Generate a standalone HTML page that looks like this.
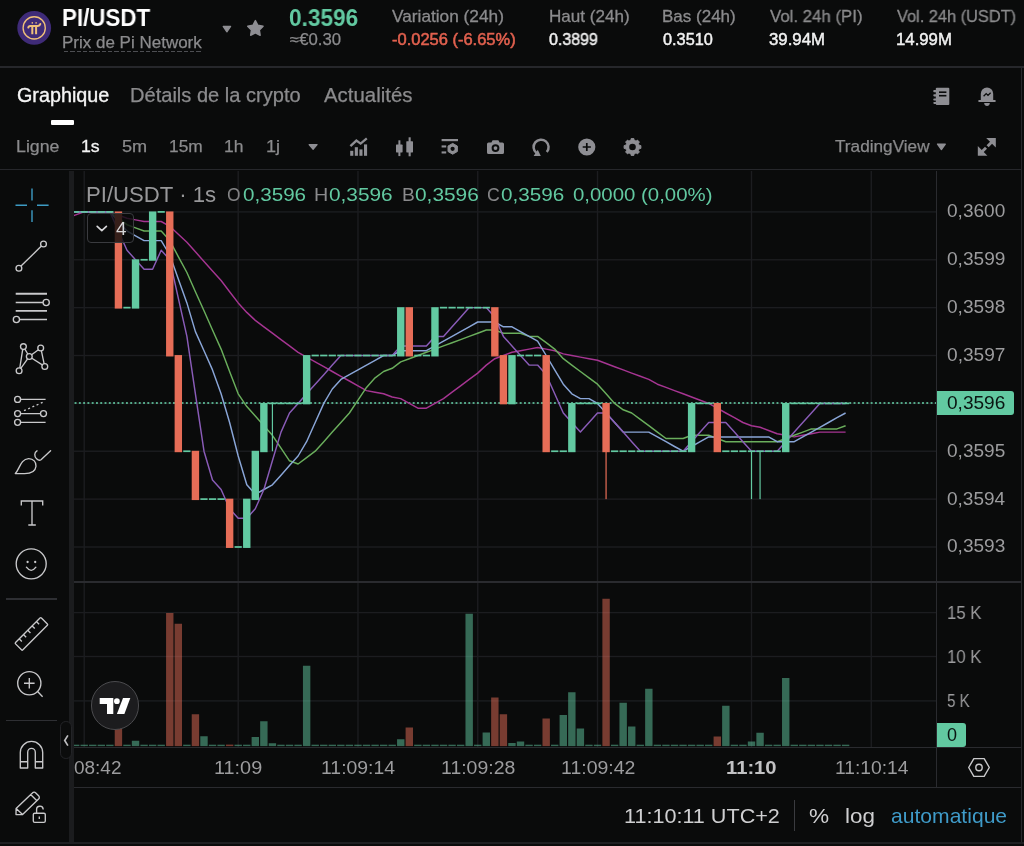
<!DOCTYPE html>
<html lang="fr">
<head>
<meta charset="utf-8">
<title>PI/USDT</title>
<style>
html,body{margin:0;padding:0;background:#0a0b0b;}
body{width:1024px;height:846px;position:relative;overflow:hidden;font-family:"Liberation Sans",sans-serif;}
.t{position:absolute;white-space:nowrap;line-height:1;transform-origin:0 0;will-change:transform;}
.b{position:absolute;}
svg{position:absolute;left:0;top:0;}
</style>
</head>
<body>
<!-- borders / structure -->
<div class="b" style="left:0;top:66.4px;width:1024px;height:1.4px;background:#26272b"></div>
<div class="b" style="left:0;top:169px;width:1022px;height:1.4px;background:#26272b"></div>
<div class="b" style="left:51.4px;top:120.2px;width:22.6px;height:4.4px;background:#fff;border-radius:1px"></div>
<div class="b" style="left:63.5px;top:50.6px;width:138.5px;height:1.7px;background:repeating-linear-gradient(90deg,#4d4e52 0,#4d4e52 4.4px,transparent 4.4px,transparent 6.3px)"></div>
<!-- left toolbar separator -->
<div class="b" style="left:68.7px;top:170.5px;width:5.2px;height:673px;background:#1b1c1e"></div>
<div class="b" style="left:5.7px;top:598.4px;width:51px;height:1.3px;background:#2e2f33"></div>
<div class="b" style="left:5.7px;top:719.9px;width:51px;height:1.3px;background:#2e2f33"></div>

<svg width="1024" height="846" viewBox="0 0 1024 846">
<defs><clipPath id="plot"><rect x="74" y="171" width="862" height="576"/></clipPath></defs>
<rect x="74" y="211.20" width="862" height="1.4" fill="#1c1d20"/>
<rect x="74" y="259.07" width="862" height="1.4" fill="#1c1d20"/>
<rect x="74" y="306.94" width="862" height="1.4" fill="#1c1d20"/>
<rect x="74" y="354.81" width="862" height="1.4" fill="#1c1d20"/>
<rect x="74" y="402.68" width="862" height="1.4" fill="#1c1d20"/>
<rect x="74" y="450.55" width="862" height="1.4" fill="#1c1d20"/>
<rect x="74" y="498.42" width="862" height="1.4" fill="#1c1d20"/>
<rect x="74" y="546.29" width="862" height="1.4" fill="#1c1d20"/>
<rect x="74" y="611.90" width="862" height="1.4" fill="#1c1d20"/>
<rect x="74" y="655.80" width="862" height="1.4" fill="#1c1d20"/>
<rect x="74" y="700.20" width="862" height="1.4" fill="#1c1d20"/>
<rect x="83.51" y="171" width="1.4" height="576" fill="#1c1d20"/>
<rect x="237.50" y="171" width="1.4" height="576" fill="#1c1d20"/>
<rect x="357.27" y="171" width="1.4" height="576" fill="#1c1d20"/>
<rect x="477.04" y="171" width="1.4" height="576" fill="#1c1d20"/>
<rect x="596.81" y="171" width="1.4" height="576" fill="#1c1d20"/>
<rect x="750.80" y="171" width="1.4" height="576" fill="#1c1d20"/>
<rect x="870.57" y="171" width="1.4" height="576" fill="#1c1d20"/>
<rect x="74.00" y="744.70" width="5.36" height="1.40" fill="#62c9a1" fill-opacity="0.5"/>
<rect x="80.51" y="744.70" width="7.40" height="1.40" fill="#62c9a1" fill-opacity="0.5"/>
<rect x="89.06" y="744.70" width="7.40" height="1.40" fill="#62c9a1" fill-opacity="0.5"/>
<rect x="97.62" y="744.70" width="7.40" height="1.40" fill="#62c9a1" fill-opacity="0.5"/>
<rect x="106.17" y="744.70" width="7.40" height="1.40" fill="#62c9a1" fill-opacity="0.5"/>
<rect x="114.73" y="722.00" width="7.40" height="24.10" fill="#e66d57" fill-opacity="0.5"/>
<rect x="123.28" y="744.70" width="7.40" height="1.40" fill="#62c9a1" fill-opacity="0.5"/>
<rect x="131.84" y="740.75" width="7.40" height="5.35" fill="#62c9a1" fill-opacity="0.5"/>
<rect x="140.40" y="744.70" width="7.40" height="1.40" fill="#62c9a1" fill-opacity="0.5"/>
<rect x="148.95" y="744.70" width="7.40" height="1.40" fill="#62c9a1" fill-opacity="0.5"/>
<rect x="157.50" y="744.70" width="7.40" height="1.40" fill="#62c9a1" fill-opacity="0.5"/>
<rect x="166.06" y="613.00" width="7.40" height="133.10" fill="#e66d57" fill-opacity="0.5"/>
<rect x="174.62" y="623.75" width="7.40" height="122.35" fill="#e66d57" fill-opacity="0.5"/>
<rect x="183.17" y="744.70" width="7.40" height="1.40" fill="#62c9a1" fill-opacity="0.5"/>
<rect x="191.72" y="714.25" width="7.40" height="31.85" fill="#e66d57" fill-opacity="0.5"/>
<rect x="200.28" y="736.25" width="7.40" height="9.85" fill="#62c9a1" fill-opacity="0.5"/>
<rect x="208.84" y="744.70" width="7.40" height="1.40" fill="#62c9a1" fill-opacity="0.5"/>
<rect x="217.39" y="744.70" width="7.40" height="1.40" fill="#62c9a1" fill-opacity="0.5"/>
<rect x="225.94" y="744.60" width="7.40" height="1.50" fill="#e66d57" fill-opacity="0.5"/>
<rect x="234.50" y="744.70" width="7.40" height="1.40" fill="#62c9a1" fill-opacity="0.5"/>
<rect x="243.06" y="744.70" width="7.40" height="1.40" fill="#62c9a1" fill-opacity="0.5"/>
<rect x="251.61" y="737.00" width="7.40" height="9.10" fill="#62c9a1" fill-opacity="0.5"/>
<rect x="260.17" y="721.25" width="7.40" height="24.85" fill="#62c9a1" fill-opacity="0.5"/>
<rect x="268.72" y="743.25" width="7.40" height="2.85" fill="#62c9a1" fill-opacity="0.5"/>
<rect x="277.27" y="744.70" width="7.40" height="1.40" fill="#62c9a1" fill-opacity="0.5"/>
<rect x="285.83" y="744.70" width="7.40" height="1.40" fill="#62c9a1" fill-opacity="0.5"/>
<rect x="294.38" y="744.70" width="7.40" height="1.40" fill="#62c9a1" fill-opacity="0.5"/>
<rect x="302.94" y="665.75" width="7.40" height="80.35" fill="#62c9a1" fill-opacity="0.5"/>
<rect x="311.50" y="744.70" width="7.40" height="1.40" fill="#62c9a1" fill-opacity="0.5"/>
<rect x="320.05" y="744.70" width="7.40" height="1.40" fill="#62c9a1" fill-opacity="0.5"/>
<rect x="328.60" y="744.70" width="7.40" height="1.40" fill="#62c9a1" fill-opacity="0.5"/>
<rect x="337.16" y="744.70" width="7.40" height="1.40" fill="#62c9a1" fill-opacity="0.5"/>
<rect x="345.71" y="744.70" width="7.40" height="1.40" fill="#62c9a1" fill-opacity="0.5"/>
<rect x="354.27" y="744.70" width="7.40" height="1.40" fill="#62c9a1" fill-opacity="0.5"/>
<rect x="362.82" y="744.70" width="7.40" height="1.40" fill="#62c9a1" fill-opacity="0.5"/>
<rect x="371.38" y="744.70" width="7.40" height="1.40" fill="#62c9a1" fill-opacity="0.5"/>
<rect x="379.94" y="744.70" width="7.40" height="1.40" fill="#62c9a1" fill-opacity="0.5"/>
<rect x="388.49" y="744.70" width="7.40" height="1.40" fill="#62c9a1" fill-opacity="0.5"/>
<rect x="397.05" y="739.25" width="7.40" height="6.85" fill="#62c9a1" fill-opacity="0.5"/>
<rect x="405.60" y="727.50" width="7.40" height="18.60" fill="#e66d57" fill-opacity="0.5"/>
<rect x="414.16" y="744.70" width="7.40" height="1.40" fill="#62c9a1" fill-opacity="0.5"/>
<rect x="422.71" y="744.70" width="7.40" height="1.40" fill="#62c9a1" fill-opacity="0.5"/>
<rect x="431.26" y="744.70" width="7.40" height="1.40" fill="#62c9a1" fill-opacity="0.5"/>
<rect x="439.82" y="744.70" width="7.40" height="1.40" fill="#62c9a1" fill-opacity="0.5"/>
<rect x="448.38" y="744.70" width="7.40" height="1.40" fill="#62c9a1" fill-opacity="0.5"/>
<rect x="456.93" y="744.70" width="7.40" height="1.40" fill="#62c9a1" fill-opacity="0.5"/>
<rect x="465.48" y="613.75" width="7.40" height="132.35" fill="#62c9a1" fill-opacity="0.5"/>
<rect x="474.04" y="744.70" width="7.40" height="1.40" fill="#62c9a1" fill-opacity="0.5"/>
<rect x="482.59" y="732.50" width="7.40" height="13.60" fill="#62c9a1" fill-opacity="0.5"/>
<rect x="491.15" y="697.50" width="7.40" height="48.60" fill="#e66d57" fill-opacity="0.5"/>
<rect x="499.70" y="714.25" width="7.40" height="31.85" fill="#e66d57" fill-opacity="0.5"/>
<rect x="508.26" y="743.00" width="7.40" height="3.10" fill="#62c9a1" fill-opacity="0.5"/>
<rect x="516.81" y="741.50" width="7.40" height="4.60" fill="#62c9a1" fill-opacity="0.5"/>
<rect x="525.37" y="744.70" width="7.40" height="1.40" fill="#62c9a1" fill-opacity="0.5"/>
<rect x="533.92" y="744.70" width="7.40" height="1.40" fill="#62c9a1" fill-opacity="0.5"/>
<rect x="542.48" y="718.50" width="7.40" height="27.60" fill="#e66d57" fill-opacity="0.5"/>
<rect x="551.03" y="744.70" width="7.40" height="1.40" fill="#62c9a1" fill-opacity="0.5"/>
<rect x="559.59" y="715.00" width="7.40" height="31.10" fill="#62c9a1" fill-opacity="0.5"/>
<rect x="568.14" y="692.25" width="7.40" height="53.85" fill="#62c9a1" fill-opacity="0.5"/>
<rect x="576.70" y="728.50" width="7.40" height="17.60" fill="#62c9a1" fill-opacity="0.5"/>
<rect x="585.25" y="744.70" width="7.40" height="1.40" fill="#62c9a1" fill-opacity="0.5"/>
<rect x="593.81" y="744.70" width="7.40" height="1.40" fill="#62c9a1" fill-opacity="0.5"/>
<rect x="602.37" y="598.75" width="7.40" height="147.35" fill="#e66d57" fill-opacity="0.5"/>
<rect x="610.92" y="744.70" width="7.40" height="1.40" fill="#62c9a1" fill-opacity="0.5"/>
<rect x="619.47" y="702.75" width="7.40" height="43.35" fill="#62c9a1" fill-opacity="0.5"/>
<rect x="628.03" y="726.50" width="7.40" height="19.60" fill="#62c9a1" fill-opacity="0.5"/>
<rect x="636.58" y="744.70" width="7.40" height="1.40" fill="#62c9a1" fill-opacity="0.5"/>
<rect x="645.14" y="688.75" width="7.40" height="57.35" fill="#62c9a1" fill-opacity="0.5"/>
<rect x="653.69" y="744.70" width="7.40" height="1.40" fill="#62c9a1" fill-opacity="0.5"/>
<rect x="662.25" y="744.70" width="7.40" height="1.40" fill="#62c9a1" fill-opacity="0.5"/>
<rect x="670.80" y="744.70" width="7.40" height="1.40" fill="#62c9a1" fill-opacity="0.5"/>
<rect x="679.36" y="744.70" width="7.40" height="1.40" fill="#62c9a1" fill-opacity="0.5"/>
<rect x="687.91" y="744.70" width="7.40" height="1.40" fill="#62c9a1" fill-opacity="0.5"/>
<rect x="696.47" y="744.70" width="7.40" height="1.40" fill="#62c9a1" fill-opacity="0.5"/>
<rect x="705.02" y="744.70" width="7.40" height="1.40" fill="#62c9a1" fill-opacity="0.5"/>
<rect x="713.58" y="736.50" width="7.40" height="9.60" fill="#e66d57" fill-opacity="0.5"/>
<rect x="722.13" y="705.75" width="7.40" height="40.35" fill="#62c9a1" fill-opacity="0.5"/>
<rect x="730.69" y="744.70" width="7.40" height="1.40" fill="#62c9a1" fill-opacity="0.5"/>
<rect x="739.24" y="744.70" width="7.40" height="1.40" fill="#62c9a1" fill-opacity="0.5"/>
<rect x="747.80" y="741.50" width="7.40" height="4.60" fill="#62c9a1" fill-opacity="0.5"/>
<rect x="756.36" y="732.75" width="7.40" height="13.35" fill="#62c9a1" fill-opacity="0.5"/>
<rect x="764.91" y="744.70" width="7.40" height="1.40" fill="#62c9a1" fill-opacity="0.5"/>
<rect x="773.46" y="744.70" width="7.40" height="1.40" fill="#62c9a1" fill-opacity="0.5"/>
<rect x="782.02" y="678.00" width="7.40" height="68.10" fill="#62c9a1" fill-opacity="0.5"/>
<rect x="790.57" y="744.70" width="7.40" height="1.40" fill="#62c9a1" fill-opacity="0.5"/>
<rect x="799.13" y="744.70" width="7.40" height="1.40" fill="#62c9a1" fill-opacity="0.5"/>
<rect x="807.68" y="744.70" width="7.40" height="1.40" fill="#62c9a1" fill-opacity="0.5"/>
<rect x="816.24" y="744.70" width="7.40" height="1.40" fill="#62c9a1" fill-opacity="0.5"/>
<rect x="824.79" y="744.70" width="7.40" height="1.40" fill="#62c9a1" fill-opacity="0.5"/>
<rect x="833.35" y="744.70" width="7.40" height="1.40" fill="#62c9a1" fill-opacity="0.5"/>
<rect x="841.90" y="744.70" width="7.40" height="1.40" fill="#62c9a1" fill-opacity="0.5"/>
<line x1="74.6" y1="402.93" x2="936" y2="402.93" stroke="#62c9a1" stroke-width="1.9" stroke-dasharray="1.9 2.38" stroke-opacity="0.82"/>
<polyline clip-path="url(#plot)" points="67.1,218.0 75.7,214.9 84.2,211.9 92.8,211.9 101.3,211.9 109.9,211.9 118.4,215.1 127.0,218.3 135.5,219.9 144.1,221.5 152.6,221.5 161.2,221.5 169.8,226.3 178.3,234.2 186.9,242.2 195.4,251.8 204.0,261.4 212.5,270.9 221.1,280.5 229.6,291.7 238.2,302.9 246.8,312.4 255.3,320.4 263.9,326.8 272.4,333.2 281.0,339.6 289.5,345.9 298.1,352.3 306.6,357.1 315.2,361.9 323.8,366.7 332.3,371.5 340.9,376.3 349.4,381.0 358.0,385.8 366.5,390.6 375.1,392.2 383.6,393.8 392.2,397.0 400.7,398.6 409.3,403.4 417.9,408.2 426.4,408.2 435.0,403.4 443.5,398.6 452.1,392.2 460.6,385.8 469.2,379.4 477.7,373.1 486.3,365.1 494.8,358.7 503.4,355.5 512.0,352.3 520.5,350.7 529.1,349.1 537.6,347.5 546.2,349.1 554.7,350.7 563.3,353.9 571.8,355.5 580.4,357.1 589.0,358.7 597.5,360.3 606.1,363.5 614.6,366.7 623.2,369.9 631.7,373.1 640.3,376.3 648.8,379.4 657.4,384.2 666.0,387.4 674.5,390.6 683.1,393.8 691.6,397.0 700.2,400.2 708.7,403.4 717.3,408.2 725.8,413.0 734.4,417.7 742.9,422.5 751.5,425.7 760.1,427.3 768.6,430.5 777.2,433.7 785.7,435.3 794.3,436.9 802.8,435.3 811.4,433.7 819.9,432.1 828.5,432.1 837.0,432.1 845.6,432.1" fill="none" stroke="#a63592" stroke-width="1.45" stroke-linejoin="round"/>
<polyline clip-path="url(#plot)" points="67.1,211.9 75.7,211.9 84.2,211.9 92.8,211.9 101.3,211.9 109.9,211.9 118.4,218.3 127.0,224.7 135.5,227.9 144.1,231.0 152.6,231.0 161.2,231.0 169.8,240.6 178.3,256.6 186.9,272.5 195.4,291.7 204.0,310.8 212.5,330.0 221.1,349.1 229.6,371.5 238.2,393.8 246.8,406.6 255.3,416.1 263.9,425.7 272.4,435.3 281.0,448.1 289.5,460.8 298.1,464.0 306.6,457.6 315.2,451.2 323.8,441.7 332.3,432.1 340.9,422.5 349.4,413.0 358.0,400.2 366.5,387.4 375.1,377.8 383.6,371.5 392.2,368.3 400.7,361.9 409.3,358.7 417.9,355.5 426.4,352.3 435.0,349.1 443.5,345.9 452.1,342.7 460.6,339.6 469.2,336.4 477.7,333.2 486.3,330.0 494.8,330.0 503.4,333.2 512.0,333.2 520.5,333.2 529.1,336.4 537.6,336.4 546.2,342.7 554.7,349.1 563.3,358.7 571.8,365.1 580.4,371.5 589.0,377.8 597.5,384.2 606.1,393.8 614.6,403.4 623.2,409.8 631.7,413.0 640.3,419.3 648.8,425.7 657.4,432.1 666.0,438.5 674.5,438.5 683.1,438.5 691.6,435.3 700.2,435.3 708.7,435.3 717.3,438.5 725.8,441.7 734.4,441.7 742.9,441.7 751.5,441.7 760.1,441.7 768.6,441.7 777.2,441.7 785.7,438.5 794.3,435.3 802.8,432.1 811.4,428.9 819.9,428.9 828.5,428.9 837.0,428.9 845.6,425.7" fill="none" stroke="#6aae5c" stroke-width="1.45" stroke-linejoin="round"/>
<polyline clip-path="url(#plot)" points="67.1,211.9 75.7,211.9 84.2,211.9 92.8,211.9 101.3,211.9 109.9,211.9 118.4,221.5 127.0,231.0 135.5,235.8 144.1,240.6 152.6,240.6 161.2,240.6 169.8,255.0 178.3,278.9 186.9,302.9 195.4,331.6 204.0,350.7 212.5,369.9 221.1,393.8 229.6,422.5 238.2,456.0 246.8,484.8 255.3,494.3 263.9,489.5 272.4,484.8 281.0,475.2 289.5,465.6 298.1,456.0 306.6,441.7 315.2,422.5 323.8,403.4 332.3,389.0 340.9,379.4 349.4,374.7 358.0,369.9 366.5,365.1 375.1,360.3 383.6,355.5 392.2,355.5 400.7,350.7 409.3,350.7 417.9,350.7 426.4,350.7 435.0,345.9 443.5,341.1 452.1,336.4 460.6,331.6 469.2,326.8 477.7,322.0 486.3,322.0 494.8,322.0 503.4,326.8 512.0,326.8 520.5,331.6 529.1,336.4 537.6,341.1 546.2,355.5 554.7,369.9 563.3,384.2 571.8,393.8 580.4,398.6 589.0,398.6 597.5,403.4 606.1,413.0 614.6,422.5 623.2,432.1 631.7,432.1 640.3,432.1 648.8,432.1 657.4,436.9 666.0,441.7 674.5,446.5 683.1,451.2 691.6,446.5 700.2,441.7 708.7,436.9 717.3,436.9 725.8,436.9 734.4,436.9 742.9,436.9 751.5,436.9 760.1,436.9 768.6,436.9 777.2,441.7 785.7,441.7 794.3,441.7 802.8,436.9 811.4,432.1 819.9,427.3 828.5,422.5 837.0,417.7 845.6,413.0" fill="none" stroke="#8aa6d8" stroke-width="1.45" stroke-linejoin="round"/>
<polyline clip-path="url(#plot)" points="67.1,211.9 75.7,211.9 84.2,211.9 92.8,211.9 101.3,211.9 109.9,211.9 118.4,231.0 127.0,250.2 135.5,259.8 144.1,269.3 152.6,269.3 161.2,250.2 169.8,259.8 178.3,298.1 186.9,336.4 195.4,393.8 204.0,451.2 212.5,480.0 221.1,489.5 229.6,508.7 238.2,518.3 246.8,518.3 255.3,508.7 263.9,489.5 272.4,460.8 281.0,432.1 289.5,413.0 298.1,403.4 306.6,393.8 315.2,384.2 323.8,374.7 332.3,365.1 340.9,355.5 349.4,355.5 358.0,355.5 366.5,355.5 375.1,355.5 383.6,355.5 392.2,355.5 400.7,345.9 409.3,345.9 417.9,345.9 426.4,345.9 435.0,336.4 443.5,336.4 452.1,326.8 460.6,317.2 469.2,307.6 477.7,307.6 486.3,307.6 494.8,317.2 503.4,336.4 512.0,345.9 520.5,355.5 529.1,365.1 537.6,365.1 546.2,374.7 554.7,393.8 563.3,413.0 571.8,422.5 580.4,432.1 589.0,422.5 597.5,413.0 606.1,413.0 614.6,422.5 623.2,432.1 631.7,441.7 640.3,451.2 648.8,451.2 657.4,451.2 666.0,451.2 674.5,451.2 683.1,451.2 691.6,441.7 700.2,432.1 708.7,422.5 717.3,422.5 725.8,422.5 734.4,432.1 742.9,441.7 751.5,451.2 760.1,451.2 768.6,451.2 777.2,451.2 785.7,441.7 794.3,432.1 802.8,422.5 811.4,413.0 819.9,403.4 828.5,403.4 837.0,403.4 845.6,403.4" fill="none" stroke="#8a5cb8" stroke-width="1.45" stroke-linejoin="round"/>
<rect x="74.10" y="211.05" width="5.16" height="1.7" fill="#62c9a1"/>
<rect x="80.61" y="211.05" width="7.20" height="1.7" fill="#62c9a1"/>
<rect x="89.16" y="211.05" width="7.20" height="1.7" fill="#62c9a1"/>
<rect x="97.72" y="211.05" width="7.20" height="1.7" fill="#62c9a1"/>
<rect x="106.27" y="211.05" width="7.20" height="1.7" fill="#62c9a1"/>
<rect x="114.73" y="211.45" width="7.40" height="97.14" fill="#e66d57"/>
<rect x="123.38" y="306.79" width="7.20" height="1.7" fill="#62c9a1"/>
<rect x="131.84" y="259.32" width="7.40" height="49.27" fill="#62c9a1"/>
<rect x="140.50" y="258.92" width="7.20" height="1.7" fill="#62c9a1"/>
<rect x="148.95" y="211.45" width="7.40" height="49.27" fill="#62c9a1"/>
<rect x="157.60" y="211.05" width="7.20" height="1.7" fill="#62c9a1"/>
<rect x="166.06" y="211.45" width="7.40" height="145.01" fill="#e66d57"/>
<rect x="174.62" y="355.06" width="7.40" height="97.14" fill="#e66d57"/>
<rect x="183.27" y="450.40" width="7.20" height="1.7" fill="#62c9a1"/>
<rect x="191.72" y="450.80" width="7.40" height="49.27" fill="#e66d57"/>
<rect x="200.38" y="498.27" width="7.20" height="1.7" fill="#62c9a1"/>
<rect x="208.94" y="498.27" width="7.20" height="1.7" fill="#62c9a1"/>
<rect x="217.49" y="498.27" width="7.20" height="1.7" fill="#62c9a1"/>
<rect x="225.94" y="498.67" width="7.40" height="49.27" fill="#e66d57"/>
<rect x="234.60" y="546.14" width="7.20" height="1.7" fill="#62c9a1"/>
<rect x="243.06" y="498.67" width="7.40" height="49.27" fill="#62c9a1"/>
<rect x="251.61" y="450.80" width="7.40" height="49.27" fill="#62c9a1"/>
<rect x="260.17" y="402.93" width="7.40" height="49.27" fill="#62c9a1"/>
<rect x="271.82" y="403.38" width="1.2" height="47.87" fill="#62c9a1"/>
<rect x="268.82" y="402.53" width="7.20" height="1.7" fill="#62c9a1"/>
<rect x="277.38" y="402.53" width="7.20" height="1.7" fill="#62c9a1"/>
<rect x="285.93" y="402.53" width="7.20" height="1.7" fill="#62c9a1"/>
<rect x="294.49" y="402.53" width="7.20" height="1.7" fill="#62c9a1"/>
<rect x="302.94" y="355.06" width="7.40" height="49.27" fill="#62c9a1"/>
<rect x="311.60" y="354.66" width="7.20" height="1.7" fill="#62c9a1"/>
<rect x="320.15" y="354.66" width="7.20" height="1.7" fill="#62c9a1"/>
<rect x="328.70" y="354.66" width="7.20" height="1.7" fill="#62c9a1"/>
<rect x="337.26" y="354.66" width="7.20" height="1.7" fill="#62c9a1"/>
<rect x="345.81" y="354.66" width="7.20" height="1.7" fill="#62c9a1"/>
<rect x="354.37" y="354.66" width="7.20" height="1.7" fill="#62c9a1"/>
<rect x="362.93" y="354.66" width="7.20" height="1.7" fill="#62c9a1"/>
<rect x="371.48" y="354.66" width="7.20" height="1.7" fill="#62c9a1"/>
<rect x="380.04" y="354.66" width="7.20" height="1.7" fill="#62c9a1"/>
<rect x="388.59" y="354.66" width="7.20" height="1.7" fill="#62c9a1"/>
<rect x="397.05" y="307.19" width="7.40" height="49.27" fill="#62c9a1"/>
<rect x="405.60" y="307.19" width="7.40" height="49.27" fill="#e66d57"/>
<rect x="414.26" y="354.66" width="7.20" height="1.7" fill="#62c9a1"/>
<rect x="422.81" y="354.66" width="7.20" height="1.7" fill="#62c9a1"/>
<rect x="431.26" y="307.19" width="7.40" height="49.27" fill="#62c9a1"/>
<rect x="439.92" y="306.79" width="7.20" height="1.7" fill="#62c9a1"/>
<rect x="448.48" y="306.79" width="7.20" height="1.7" fill="#62c9a1"/>
<rect x="457.03" y="306.79" width="7.20" height="1.7" fill="#62c9a1"/>
<rect x="465.58" y="306.79" width="7.20" height="1.7" fill="#62c9a1"/>
<rect x="474.14" y="306.79" width="7.20" height="1.7" fill="#62c9a1"/>
<rect x="482.69" y="306.79" width="7.20" height="1.7" fill="#62c9a1"/>
<rect x="491.15" y="307.19" width="7.40" height="49.27" fill="#e66d57"/>
<rect x="499.70" y="355.06" width="7.40" height="49.27" fill="#e66d57"/>
<rect x="508.26" y="355.06" width="7.40" height="49.27" fill="#62c9a1"/>
<rect x="516.91" y="354.66" width="7.20" height="1.7" fill="#62c9a1"/>
<rect x="525.47" y="354.66" width="7.20" height="1.7" fill="#62c9a1"/>
<rect x="534.02" y="354.66" width="7.20" height="1.7" fill="#62c9a1"/>
<rect x="542.48" y="355.06" width="7.40" height="97.14" fill="#e66d57"/>
<rect x="551.13" y="450.40" width="7.20" height="1.7" fill="#62c9a1"/>
<rect x="559.69" y="450.40" width="7.20" height="1.7" fill="#62c9a1"/>
<rect x="568.14" y="402.93" width="7.40" height="49.27" fill="#62c9a1"/>
<rect x="576.80" y="402.53" width="7.20" height="1.7" fill="#62c9a1"/>
<rect x="585.35" y="402.53" width="7.20" height="1.7" fill="#62c9a1"/>
<rect x="593.91" y="402.53" width="7.20" height="1.7" fill="#62c9a1"/>
<rect x="605.47" y="403.38" width="1.2" height="95.74" fill="#e66d57"/>
<rect x="602.37" y="402.93" width="7.40" height="49.27" fill="#e66d57"/>
<rect x="611.02" y="450.40" width="7.20" height="1.7" fill="#62c9a1"/>
<rect x="619.57" y="450.40" width="7.20" height="1.7" fill="#62c9a1"/>
<rect x="628.13" y="450.40" width="7.20" height="1.7" fill="#62c9a1"/>
<rect x="636.68" y="450.40" width="7.20" height="1.7" fill="#62c9a1"/>
<rect x="645.24" y="450.40" width="7.20" height="1.7" fill="#62c9a1"/>
<rect x="653.79" y="450.40" width="7.20" height="1.7" fill="#62c9a1"/>
<rect x="662.35" y="450.40" width="7.20" height="1.7" fill="#62c9a1"/>
<rect x="670.90" y="450.40" width="7.20" height="1.7" fill="#62c9a1"/>
<rect x="679.46" y="450.40" width="7.20" height="1.7" fill="#62c9a1"/>
<rect x="687.91" y="402.93" width="7.40" height="49.27" fill="#62c9a1"/>
<rect x="696.57" y="402.53" width="7.20" height="1.7" fill="#62c9a1"/>
<rect x="705.12" y="402.53" width="7.20" height="1.7" fill="#62c9a1"/>
<rect x="713.58" y="402.93" width="7.40" height="49.27" fill="#e66d57"/>
<rect x="722.24" y="450.40" width="7.20" height="1.7" fill="#62c9a1"/>
<rect x="730.79" y="450.40" width="7.20" height="1.7" fill="#62c9a1"/>
<rect x="739.34" y="450.40" width="7.20" height="1.7" fill="#62c9a1"/>
<rect x="750.90" y="451.25" width="1.2" height="47.87" fill="#62c9a1"/>
<rect x="747.90" y="450.40" width="7.20" height="1.7" fill="#62c9a1"/>
<rect x="759.46" y="451.25" width="1.2" height="47.87" fill="#62c9a1"/>
<rect x="756.46" y="450.40" width="7.20" height="1.7" fill="#62c9a1"/>
<rect x="765.01" y="450.40" width="7.20" height="1.7" fill="#62c9a1"/>
<rect x="773.56" y="450.40" width="7.20" height="1.7" fill="#62c9a1"/>
<rect x="782.02" y="402.93" width="7.40" height="49.27" fill="#62c9a1"/>
<rect x="790.67" y="402.53" width="7.20" height="1.7" fill="#62c9a1"/>
<rect x="799.23" y="402.53" width="7.20" height="1.7" fill="#62c9a1"/>
<rect x="807.78" y="402.53" width="7.20" height="1.7" fill="#62c9a1"/>
<rect x="816.34" y="402.53" width="7.20" height="1.7" fill="#62c9a1"/>
<rect x="824.89" y="402.53" width="7.20" height="1.7" fill="#62c9a1"/>
<rect x="833.45" y="402.53" width="7.20" height="1.7" fill="#62c9a1"/>
<rect x="842.00" y="402.53" width="7.20" height="1.7" fill="#62c9a1"/>
</svg>

<!-- pane borders -->
<div class="b" style="left:74px;top:581.3px;width:948px;height:1.4px;background:#2a2b2f"></div>
<div class="b" style="left:74px;top:746.7px;width:948px;height:1.4px;background:#2a2b2f"></div>
<div class="b" style="left:74px;top:786.7px;width:948px;height:1.4px;background:#2a2b2f"></div>
<div class="b" style="left:935.7px;top:170.5px;width:1.4px;height:617px;background:#2a2b2f"></div>
<div class="b" style="left:1021px;top:67px;width:1.4px;height:776px;background:#26272b"></div>
<div class="b" style="left:0;top:842.3px;width:1024px;height:2px;background:#1e1f22"></div>
<div class="b" style="left:793.7px;top:800px;width:1.3px;height:30.5px;background:#3a3b3f"></div>

<!-- price labels -->
<div class="b" style="left:936.9px;top:391.1px;width:77.2px;height:24.2px;background:#62c9a1;border-radius:0 3px 3px 0"></div>
<div class="b" style="left:936.9px;top:722.5px;width:28.8px;height:24.5px;background:#62c9a1;border-radius:0 3px 3px 0"></div>

<!-- legend collapse box -->
<div class="b" style="left:86.9px;top:213.4px;width:46.8px;height:29.2px;border:1.2px solid #3a3b3f;border-radius:4px;background:rgba(10,11,11,0.8);box-sizing:border-box"></div>

<!-- pane collapse handle -->
<div class="b" style="left:60.2px;top:721.2px;width:11.4px;height:37.8px;border:1.7px solid #232427;border-radius:5.8px;background:#0b0c0c;box-sizing:border-box"></div>

<!-- TradingView logo -->
<div class="b" style="left:90.5px;top:681px;width:48.6px;height:48.6px;border-radius:50%;background:#1c1c1e;border:1.3px solid #4b4b4e;box-sizing:border-box"></div>

<svg width="1024" height="846" viewBox="0 0 1024 846">
<circle cx="34.2" cy="27.9" r="16.9" fill="#3f2b78"/>
<circle cx="34.2" cy="27.9" r="11.1" fill="none" stroke="#efc07a" stroke-width="1.35"/>
<path d="M28.3 27.6 q0.2 -1.7 2 -1.7 h7.6 q1.9 0 2.4 -1.9" fill="none" stroke="#efc07a" stroke-width="2" stroke-linecap="round"/>
<path d="M32.3 26 v8.2 M36.1 26 v8.2" stroke="#efc07a" stroke-width="2" fill="none"/>
<circle cx="32.3" cy="22.9" r="0.8" fill="#efc07a"/><circle cx="36.1" cy="22.9" r="0.8" fill="#efc07a"/>
<polygon points="223.2,26.5 230.6,26.5 226.9,31.8" fill="#8e8e93" stroke="#8e8e93" stroke-width="1.3" stroke-linejoin="round"/>
<polygon points="255.40,20.60 257.87,25.30 263.10,26.20 259.39,30.00 260.16,35.25 255.40,32.90 250.64,35.25 251.41,30.00 247.70,26.20 252.93,25.30" fill="#8e8e93" stroke="#8e8e93" stroke-width="1.4" stroke-linejoin="round"/>
<polygon points="309.1,144.7 317.1,144.7 313.1,149.3" fill="#8e8e93" stroke="#8e8e93" stroke-width="1.2" stroke-linejoin="round"/>
<polygon points="937.5,144.1 945.3,144.1 941.4,149.5" fill="#8e8e93" stroke="#8e8e93" stroke-width="1.3" stroke-linejoin="round"/>
<g fill="#8e8e93"><rect x="350.2" y="150.8" width="3.1" height="5"/><rect x="354.8" y="147.2" width="3.1" height="8.6"/><rect x="359.4" y="149.4" width="3.1" height="6.4"/><rect x="364" y="144.4" width="3.1" height="11.4"/></g>
<polyline points="350.4,146.2 356.4,140.6 360.6,143.6 366.8,138.4" fill="none" stroke="#8e8e93" stroke-width="2.3" stroke-linejoin="miter"/>
<g fill="#8e8e93"><rect x="396" y="144.6" width="6.6" height="7.8" rx="0.6"/><rect x="398.4" y="140.3" width="2" height="15.8"/><rect x="406.3" y="141.2" width="6.7" height="11.2" rx="0.6"/><rect x="408.6" y="137.3" width="2.1" height="19"/></g>
<g fill="#8e8e93"><rect x="441.6" y="139" width="16.4" height="2.2"/><rect x="441.6" y="145.4" width="4.6" height="2.1"/><rect x="441.6" y="151.4" width="4.6" height="2.1"/></g>
<polygon points="457.38,151.50 452.70,154.20 448.02,151.50 448.02,146.10 452.70,143.40 457.38,146.10" fill="#8e8e93" stroke="#8e8e93" stroke-width="1" stroke-linejoin="round"/>
<circle cx="452.6" cy="148.8" r="2.1" fill="#0a0b0b"/>
<path d="M488.6 142.4 h2.8 l1.2 -2.2 h5.8 l1.2 2.2 h2.8 a1.6 1.6 0 0 1 1.6 1.6 v8.4 a1.6 1.6 0 0 1 -1.6 1.6 h-13.8 a1.6 1.6 0 0 1 -1.6 -1.6 v-8.4 a1.6 1.6 0 0 1 1.6 -1.6 z" fill="#8e8e93"/>
<circle cx="495.5" cy="148.1" r="3.9" fill="#0a0b0b"/><circle cx="495.5" cy="148.1" r="1.9" fill="#8e8e93"/>
<path d="M536.4 153.0 A7.5 7.5 0 1 1 546.8 152.0" fill="none" stroke="#8e8e93" stroke-width="2.5" stroke-linecap="butt"/>
<polygon points="533.6,156 540.8,156 537.8,149.8" fill="#8e8e93"/>
<circle cx="586.8" cy="147" r="8.6" fill="#8e8e93"/>
<path d="M582.7 147 h8.2 M586.8 142.9 v8.2" stroke="#0a0b0b" stroke-width="1.7" fill="none"/>
<polygon points="640.88,145.60 640.88,148.40 639.21,148.61 638.38,150.61 639.42,151.94 637.44,153.92 636.11,152.88 634.11,153.71 633.90,155.38 631.10,155.38 630.89,153.71 628.89,152.88 627.56,153.92 625.58,151.94 626.62,150.61 625.79,148.61 624.12,148.40 624.12,145.60 625.79,145.39 626.62,143.39 625.58,142.06 627.56,140.08 628.89,141.12 630.89,140.29 631.10,138.62 633.90,138.62 634.11,140.29 636.11,141.12 637.44,140.08 639.42,142.06 638.38,143.39 639.21,145.39" fill="#8e8e93" stroke="#8e8e93" stroke-width="1" stroke-linejoin="round"/>
<circle cx="632.5" cy="147" r="3.3" fill="#0a0b0b"/>
<rect x="935.8" y="87.7" width="13.5" height="17.3" rx="1" fill="#8e8e93"/>
<g fill="#8e8e93"><rect x="933.3" y="90" width="3.5" height="2.2" rx="0.8"/><rect x="933.3" y="94.2" width="3.5" height="2.2" rx="0.8"/><rect x="933.3" y="98.4" width="3.5" height="2.2" rx="0.8"/><rect x="933.3" y="101.9" width="3.5" height="2" rx="0.8"/></g>
<g fill="#0a0b0b"><rect x="939" y="91.4" width="7.4" height="1.6"/><rect x="939" y="94.9" width="7.4" height="1.6"/></g>
<path d="M980.8 100.6 v-6.9 a6.2 6.2 0 0 1 12.4 0 v6.9 z" fill="#8e8e93"/>
<rect x="978.2" y="99.9" width="17.6" height="2.2" rx="1" fill="#8e8e93"/>
<path d="M984.2 103.1 h5.6 a2.8 2.8 0 0 1 -5.6 0 z" fill="#8e8e93"/>
<polyline points="983.6,96.2 986.2,93.6 988,95.4 990.6,92.8" fill="none" stroke="#0a0b0b" stroke-width="1.3"/>
<g fill="#8e8e93"><polygon points="986.2,138 995.8,138 995.8,147.6"/><polygon points="977.8,146.1 977.8,155.7 987.4,155.7"/></g>
<path d="M993.6 140.2 L987.6 146.2 M986 147.8 L980 153.8" stroke="#8e8e93" stroke-width="2.9" fill="none"/>
<path d="M32 188.6 V200.4 M32 210.2 V222 M15.5 205.3 H27 M37 205.3 H48.6" stroke="#3d9bc4" stroke-width="1.4" fill="none"/>
<g fill="none" stroke="#c9c9cb" stroke-width="1.35"><circle cx="43.5" cy="244" r="2.9"/><circle cx="18.9" cy="268.2" r="2.9"/><path d="M21 266.1 L41.4 246.1"/></g>
<g fill="none" stroke="#c9c9cb"><path d="M15.7 293.8 H47 M15.7 310.9 H47" stroke-width="1.9"/><path d="M15.7 302.5 H43 M19.5 319.5 H47" stroke-width="1.35"/><circle cx="46.2" cy="302.5" r="3.1" stroke-width="1.35"/><circle cx="16.4" cy="319.5" r="3.1" stroke-width="1.35"/></g>
<g fill="none" stroke="#c9c9cb" stroke-width="1.35"><circle cx="23.4" cy="346.6" r="2.9"/><circle cx="40.7" cy="348" r="2.9"/><circle cx="29.3" cy="356.5" r="2.9"/><circle cx="44.8" cy="366.5" r="2.9"/><circle cx="19.1" cy="370.7" r="2.9"/><path d="M22.7 349.4 L19.8 367.9 M24.9 349.1 L27.8 354 M20.8 368.3 L27.6 358.9 M31.6 354.8 L38.4 349.8 M41.4 350.8 L44.1 363.7 M31.9 358.2 L42.3 364.9"/></g>
<g fill="none" stroke="#c9c9cb" stroke-width="1.35"><circle cx="17.6" cy="399.4" r="3"/><circle cx="17.6" cy="413.6" r="3"/><circle cx="17.6" cy="422.3" r="3"/><circle cx="43.5" cy="413.6" r="3"/><path d="M20.6 399.4 H45.6 M20.6 413.6 H40.5 M20.6 422.3 H45.6"/><path d="M24 410.7 L43.9 401.8" stroke-dasharray="2 2.6"/></g>
<g fill="none" stroke="#c9c9cb" stroke-width="1.35" stroke-linejoin="round" stroke-linecap="round"><path d="M15.3 473.6 C19.6 469.4 20.4 458.9 28.6 458.6 C33.4 458.5 36.4 462.3 36 466.2 C35.4 471.4 30.4 473.6 24.6 473.6 Z"/><path d="M37 450.8 C34.2 452.4 34 456.2 36.6 458.8 C38 460.2 39.8 460.6 41 459.8 L50.6 450.8"/></g>
<g fill="none" stroke="#c9c9cb" stroke-width="1.35"><path d="M21.3 505.4 V501 H42.7 V505.4 M32 501 V525 M28.3 525 H35.8"/></g>
<g fill="none" stroke="#c9c9cb" stroke-width="1.35"><circle cx="31.2" cy="563.8" r="15"/><path d="M26.4 567.2 Q31.2 573.6 35.9 567.2" stroke-linecap="round"/></g>
<circle cx="27.6" cy="562" r="1.15" fill="#c9c9cb"/><circle cx="35.2" cy="562" r="1.15" fill="#c9c9cb"/>
<g fill="none" stroke="#c9c9cb" stroke-width="1.35" transform="translate(31.45 633.9) rotate(-45)"><rect x="-18.3" y="-5.2" width="36.6" height="10.4" rx="1"/><path d="M-12.2 -5.2 V-1.4 M-6.1 -5.2 V-1.4 M0 -5.2 V-1.4 M6.1 -5.2 V-1.4 M12.2 -5.2 V-1.4"/></g>
<g fill="none" stroke="#c9c9cb" stroke-width="1.35"><circle cx="29.3" cy="683.2" r="11.6"/><path d="M24 683.2 H34.6 M29.3 677.9 V688.5 M37.6 691.5 L42.6 696.8"/></g>
<g fill="none" stroke="#c9c9cb" stroke-width="1.35" stroke-linejoin="round"><path d="M20.3 768 V752.6 A11.2 11.2 0 0 1 42.7 752.6 V768 H35.3 V752.2 A3.8 3.8 0 0 0 27.7 752.2 V768 Z"/><path d="M20.3 761.7 H27.7 M35.3 761.7 H42.7"/></g>
<g fill="none" stroke="#c9c9cb" stroke-width="1.35" stroke-linejoin="round"><path d="M16 814.6 L16.1 808.4 L32.4 792.9 A2.4 2.4 0 0 1 35.8 792.9 L38.6 795.7 A2.4 2.4 0 0 1 38.6 799.1 L22.6 814.5 Z M16.1 808.4 L22.6 814.5 M30.6 794.6 L36.9 800.8"/><rect x="33.3" y="813.2" width="12" height="9.2" rx="1.4"/><path d="M36.6 813.2 V809.6 A3.3 3.3 0 0 1 43.2 809.4"/><path d="M39.3 816.6 V819"/></g>
<polyline points="67.9,735.4 64.7,740.5 67.9,745.6" fill="none" stroke="#bcbcbe" stroke-width="1.7"/>
<polyline points="97.2,226.4 101.8,230.6 106.4,226.4" fill="none" stroke="#d8d8da" stroke-width="1.7" stroke-linecap="round" stroke-linejoin="round"/>
<g fill="#ffffff"><path d="M99.7 698.1 H113.3 V714 H107 V703.9 H99.7 Z"/><circle cx="116.9" cy="701.2" r="2.85"/><path d="M123 698.1 H130.3 L124.4 714 H116.9 Z"/></g>
<polygon points="989.30,767.50 984.15,776.42 973.85,776.42 968.70,767.50 973.85,758.58 984.15,758.58" fill="none" stroke="#c9c9cb" stroke-width="1.4" stroke-linejoin="round"/>
<circle cx="979" cy="767.5" r="3.2" fill="none" stroke="#c9c9cb" stroke-width="1.4"/>
</svg>

<div class="t" style="left:62.00px;top:7px;font-size:23.20px;color:#ffffff;font-weight:700;transform:scaleX(0.9641);">PI/USDT</div>
<div class="t" style="left:62.10px;top:35px;font-size:16.70px;color:#8b8b8d;transform:scaleX(1.0183);-webkit-text-stroke:0.25px #8b8b8d;">Prix de Pi Network</div>
<div class="t" style="left:289.11px;top:7px;font-size:23.00px;color:#62c9a1;font-weight:700;transform:scaleX(0.9838);">0.3596</div>
<div class="t" style="left:289.54px;top:31px;font-size:16.20px;color:#8b8b8d;transform:scaleX(1.0340);-webkit-text-stroke:0.25px #8b8b8d;">≈€0.30</div>
<div class="t" style="left:392.42px;top:8px;font-size:17.00px;color:#8b8b8d;transform:scaleX(1.0149);-webkit-text-stroke:0.3px #8b8b8d;">Variation (24h)</div>
<div class="t" style="left:391.77px;top:31px;font-size:16.20px;color:#e2614f;transform:scaleX(1.0180);-webkit-text-stroke:0.55px #e2614f;">-0.0256 (-6.65%)</div>
<div class="t" style="left:548.60px;top:8px;font-size:17.00px;color:#8b8b8d;transform:scaleX(1.0049);-webkit-text-stroke:0.3px #8b8b8d;">Haut (24h)</div>
<div class="t" style="left:549.38px;top:31px;font-size:16.20px;color:#f2f2f2;transform:scaleX(0.9865);-webkit-text-stroke:0.45px #f2f2f2;">0.3899</div>
<div class="t" style="left:662.01px;top:8px;font-size:17.00px;color:#8b8b8d;transform:scaleX(0.9964);-webkit-text-stroke:0.3px #8b8b8d;">Bas (24h)</div>
<div class="t" style="left:662.76px;top:31px;font-size:16.20px;color:#f2f2f2;transform:scaleX(1.0065);-webkit-text-stroke:0.45px #f2f2f2;">0.3510</div>
<div class="t" style="left:769.93px;top:8px;font-size:17.00px;color:#8b8b8d;transform:scaleX(0.9889);-webkit-text-stroke:0.3px #8b8b8d;">Vol. 24h (PI)</div>
<div class="t" style="left:769.36px;top:31px;font-size:16.20px;color:#f2f2f2;transform:scaleX(1.0367);-webkit-text-stroke:0.45px #f2f2f2;">39.94M</div>
<div class="t" style="left:897.23px;top:8px;font-size:17.00px;color:#8b8b8d;transform:scaleX(0.9622);-webkit-text-stroke:0.3px #8b8b8d;">Vol. 24h (USDT)</div>
<div class="t" style="left:896.02px;top:31px;font-size:16.20px;color:#f2f2f2;transform:scaleX(1.0355);-webkit-text-stroke:0.45px #f2f2f2;">14.99M</div>
<div class="t" style="left:16.51px;top:86px;font-size:19.30px;color:#f4f4f4;transform:scaleX(1.0249);-webkit-text-stroke:0.35px #f4f4f4;">Graphique</div>
<div class="t" style="left:130.25px;top:86px;font-size:19.30px;color:#8b8b8d;transform:scaleX(1.0412);-webkit-text-stroke:0.25px #8b8b8d;">Détails de la crypto</div>
<div class="t" style="left:323.71px;top:86px;font-size:19.30px;color:#8b8b8d;transform:scaleX(1.0580);-webkit-text-stroke:0.25px #8b8b8d;">Actualités</div>
<div class="t" style="left:16.04px;top:139px;font-size:16.90px;color:#8b8b8d;transform:scaleX(1.0519);-webkit-text-stroke:0.25px #8b8b8d;">Ligne</div>
<div class="t" style="left:81.15px;top:139px;font-size:16.90px;color:#f4f4f4;transform:scaleX(1.0501);-webkit-text-stroke:0.3px #f4f4f4;">1s</div>
<div class="t" style="left:121.77px;top:139px;font-size:16.90px;color:#8b8b8d;transform:scaleX(1.0721);-webkit-text-stroke:0.25px #8b8b8d;">5m</div>
<div class="t" style="left:168.68px;top:139px;font-size:16.90px;color:#8b8b8d;transform:scaleX(1.0254);-webkit-text-stroke:0.25px #8b8b8d;">15m</div>
<div class="t" style="left:223.67px;top:139px;font-size:16.90px;color:#8b8b8d;transform:scaleX(1.0357);-webkit-text-stroke:0.25px #8b8b8d;">1h</div>
<div class="t" style="left:265.52px;top:139px;font-size:16.90px;color:#8b8b8d;transform:scaleX(1.0719);-webkit-text-stroke:0.25px #8b8b8d;">1j</div>
<div class="t" style="left:834.81px;top:138px;font-size:17.20px;color:#8b8b8d;transform:scaleX(0.9988);-webkit-text-stroke:0.25px #8b8b8d;">TradingView</div>
<div class="t" style="left:85.98px;top:184px;font-size:21.80px;color:#98989a;transform:scaleX(1.0165);">PI/USDT · 1s</div>
<div class="t" style="left:227.08px;top:185px;font-size:19.20px;color:#8a8a8c;transform:scaleX(0.9004);">O</div>
<div class="t" style="left:242.79px;top:185px;font-size:19.20px;color:#62c9a1;transform:scaleX(1.0747);">0,3596</div>
<div class="t" style="left:313.98px;top:185px;font-size:19.20px;color:#8a8a8c;transform:scaleX(1.0256);">H</div>
<div class="t" style="left:329.19px;top:185px;font-size:19.20px;color:#62c9a1;transform:scaleX(1.0852);">0,3596</div>
<div class="t" style="left:401.54px;top:185px;font-size:19.20px;color:#8a8a8c;transform:scaleX(0.9883);">B</div>
<div class="t" style="left:415.08px;top:185px;font-size:19.20px;color:#62c9a1;transform:scaleX(1.0869);">0,3596</div>
<div class="t" style="left:486.80px;top:185px;font-size:19.20px;color:#8a8a8c;transform:scaleX(0.9211);">C</div>
<div class="t" style="left:501.49px;top:185px;font-size:19.20px;color:#62c9a1;transform:scaleX(1.0782);">0,3596</div>
<div class="t" style="left:573.20px;top:185px;font-size:19.20px;color:#62c9a1;transform:scaleX(1.0630);">0,0000 (0,00%)</div>
<div class="t" style="left:116.07px;top:221px;font-size:17.80px;color:#d6d6d8;transform:scaleX(1.0591);">4</div>
<div class="t" style="left:946.76px;top:202px;font-size:18.00px;color:#9c9c9e;transform:scaleX(1.0578);">0,3600</div>
<div class="t" style="left:946.75px;top:250px;font-size:18.00px;color:#9c9c9e;transform:scaleX(1.0607);">0,3599</div>
<div class="t" style="left:946.76px;top:298px;font-size:18.00px;color:#9c9c9e;transform:scaleX(1.0593);">0,3598</div>
<div class="t" style="left:946.75px;top:346px;font-size:18.00px;color:#9c9c9e;transform:scaleX(1.0618);">0,3597</div>
<div class="t" style="left:946.76px;top:442px;font-size:18.00px;color:#9c9c9e;transform:scaleX(1.0588);">0,3595</div>
<div class="t" style="left:946.76px;top:490px;font-size:18.00px;color:#9c9c9e;transform:scaleX(1.0543);">0,3594</div>
<div class="t" style="left:946.76px;top:537px;font-size:18.00px;color:#9c9c9e;transform:scaleX(1.0595);">0,3593</div>
<div class="t" style="left:946.76px;top:394px;font-size:18.00px;color:#0a1512;transform:scaleX(1.0595);">0,3596</div>
<div class="t" style="left:946.72px;top:604px;font-size:18.00px;color:#9c9c9e;transform:scaleX(0.9307);">15 K</div>
<div class="t" style="left:946.72px;top:648px;font-size:18.00px;color:#9c9c9e;transform:scaleX(0.9307);">10 K</div>
<div class="t" style="left:947.39px;top:692px;font-size:18.00px;color:#9c9c9e;transform:scaleX(0.8431);">5 K</div>
<div class="t" style="left:946.81px;top:726px;font-size:18.00px;color:#0a1512;transform:scaleX(0.9878);">0</div>
<div class="t" style="left:73.51px;top:759px;font-size:18.00px;color:#9c9c9e;transform:scaleX(1.0533);">08:42</div>
<div class="t" style="left:213.99px;top:759px;font-size:18.00px;color:#9c9c9e;transform:scaleX(1.1028);">11:09</div>
<div class="t" style="left:321.02px;top:759px;font-size:18.00px;color:#9c9c9e;transform:scaleX(1.0773);">11:09:14</div>
<div class="t" style="left:440.52px;top:759px;font-size:18.00px;color:#9c9c9e;transform:scaleX(1.0814);">11:09:28</div>
<div class="t" style="left:560.51px;top:759px;font-size:18.00px;color:#9c9c9e;transform:scaleX(1.0834);">11:09:42</div>
<div class="t" style="left:726.23px;top:759px;font-size:18.00px;color:#c2c2c4;font-weight:700;transform:scaleX(1.1234);">11:10</div>
<div class="t" style="left:834.53px;top:759px;font-size:18.00px;color:#9c9c9e;transform:scaleX(1.0698);">11:10:14</div>
<div class="t" style="left:624.05px;top:806px;font-size:20.60px;color:#cfcfd1;transform:scaleX(1.0488);">11:10:11 UTC+2</div>
<div class="t" style="left:809.19px;top:806px;font-size:20.60px;color:#cfcfd1;transform:scaleX(1.0981);">%</div>
<div class="t" style="left:845.49px;top:806px;font-size:20.60px;color:#cfcfd1;transform:scaleX(1.0898);">log</div>
<div class="t" style="left:891.10px;top:806px;font-size:20.60px;color:#3f9bc9;transform:scaleX(1.0243);">automatique</div>
</body>
</html>
